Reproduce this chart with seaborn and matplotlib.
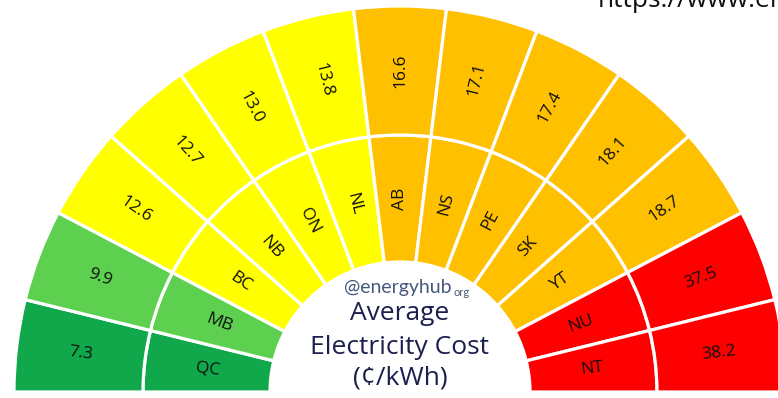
import numpy as np
import matplotlib
matplotlib.use("Agg")
import matplotlib.pyplot as plt
from matplotlib.patches import Wedge
import seaborn as sns

# Provinces and territories, ordered from left (cheapest) to right
provinces = ["QC", "MB", "BC", "NB", "ON", "NL", "AB", "NS", "PE", "SK", "YT", "NU", "NT"]
costs = [7.3, 9.9, 12.6, 12.7, 13.0, 13.8, 16.6, 17.1, 17.4, 18.1, 18.7, 37.5, 38.2]
tiers = ["lowest", "low", "mid", "mid", "mid", "mid", "high", "high", "high", "high", "high",
         "highest", "highest"]

tier_colors = {
    "lowest": "#10A84B",
    "low": "#5DD14F",
    "mid": "#FFFF00",
    "high": "#FFC000",
    "highest": "#FF0000",
}

sns.set_theme(style="white")
plt.rcParams["font.family"] = ["Open Sans", "DejaVu Sans"]

fig = plt.figure(figsize=(7.78, 3.98), dpi=100)
ax = fig.add_axes([0, 0, 1, 1])
ax.set_xlim(-400, 378)
ax.set_ylim(-6, 392)
ax.set_aspect("equal")
ax.axis("off")

r_hole, r_mid, r_outer = 130, 257, 386
n = len(provinces)
step = 180.0 / n
palette = [tier_colors[t] for t in tiers]

for i, (code, val, col) in enumerate(zip(provinces, costs, palette)):
    t1 = 180 - (i + 1) * step
    t2 = 180 - i * step
    # inner ring: province code, outer ring: cost
    ax.add_patch(Wedge((0, 0), r_mid, t1, t2, width=r_mid - r_hole,
                       facecolor=col, edgecolor="white", linewidth=2.3))
    ax.add_patch(Wedge((0, 0), r_outer, t1, t2, width=r_outer - r_mid,
                       facecolor=col, edgecolor="white", linewidth=2.3))
    mid = 0.5 * (t1 + t2)
    rot = mid if mid <= 90 else mid - 180
    rad = np.deg2rad(mid)
    r_lab_out = 0.5 * (r_mid + r_outer)
    r_lab_in = 0.5 * (r_hole + r_mid)
    ax.text(r_lab_out * np.cos(rad), r_lab_out * np.sin(rad), f"{val:.1f}",
            rotation=rot, rotation_mode="anchor", ha="center", va="center",
            fontsize=12.5, color="#111111")
    ax.text(r_lab_in * np.cos(rad), r_lab_in * np.sin(rad), code,
            rotation=rot, rotation_mode="anchor", ha="center", va="center",
            fontsize=12.5, color="#111111")

# centre caption
navy = "#1B1F4D"
ax.text(0, 79, "Average", ha="center", va="center", fontsize=19, color=navy)
ax.text(0, 44, "Electricity Cost", ha="center", va="center", fontsize=19, color=navy)
ax.text(0, 14, "(¢/kWh)", ha="center", va="center", fontsize=19, color=navy)
ax.text(52, 104, "@energyhub", ha="right", va="center", fontsize=14,
        color="#47597D", family=["Lato", "DejaVu Sans"])
ax.text(53, 99, "org", ha="left", va="center", fontsize=8,
        color="#47597D", family=["Lato", "DejaVu Sans"])

# source link running off the top edge
ax.text(198, 385, "https://www.energyhub.org", ha="left", va="baseline",
        fontsize=19, color="#111111")

fig.savefig("out.png", dpi=100)
